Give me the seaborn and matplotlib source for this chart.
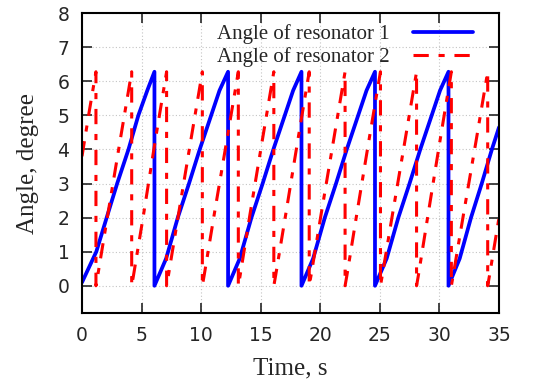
import matplotlib
matplotlib.use("Agg")
import matplotlib.pyplot as plt
import seaborn as sns
import pandas as pd

# resonator 1 (blue, solid): sawtooth, vertical drop 6.28 -> 0 at each reset
blue_t = [0.0, 1.2, 2.07, 2.95, 3.9, 4.73, 5.5, 6.08,
          6.08, 7.06, 8.04, 8.98, 9.88, 10.84, 11.54, 12.26,
          12.26, 13.24, 14.22, 15.16, 16.06, 17.02, 17.72, 18.42,
          18.42, 19.4, 20.38, 21.32, 22.22, 23.18, 23.88, 24.59,
          24.59, 25.57, 26.55, 27.49, 28.39, 29.35, 30.05, 30.76,
          30.76, 31.7, 32.65, 33.55, 34.4, 35.0]
blue_y = [0.1, 1.0, 2.0, 3.0, 4.0, 5.0, 5.75, 6.28,
          0.0, 0.8, 2.0, 3.0, 4.0, 5.0, 5.73, 6.28,
          0.0, 0.8, 2.0, 3.0, 4.0, 5.0, 5.73, 6.28,
          0.0, 0.8, 2.0, 3.0, 4.0, 5.0, 5.73, 6.28,
          0.0, 0.8, 2.0, 3.0, 4.0, 5.0, 5.73, 6.28,
          0.0, 0.8, 2.0, 3.0, 4.0, 4.65]

# resonator 2 (red, dash-dot)
red_t = [0.0, 0.6, 1.17,
         1.17, 1.32, 2.17, 3.17, 4.17,
         4.17, 4.32, 5.17, 6.12, 7.1,
         7.1, 7.25, 8.1, 9.1, 10.1,
         10.1, 10.25, 11.1, 12.12, 13.12,
         13.12, 13.27, 14.1, 15.1, 16.1,
         16.1, 16.25, 17.1, 18.08, 19.07,
         19.07, 19.22, 20.07, 21.08, 22.08,
         22.08, 22.23, 23.06, 24.05, 25.05,
         25.05, 25.2, 26.06, 27.08, 28.08,
         28.08, 28.23, 29.05, 30.02, 31.0,
         31.0, 31.15, 32.02, 33.05, 34.05,
         34.05, 34.2, 35.0]
red_y = [3.8, 5.1, 6.28,
         0.0, 0.3, 2.1, 4.2, 6.28,
         0.0, 0.3, 2.1, 4.2, 6.28,
         0.0, 0.3, 2.1, 4.2, 6.28,
         0.0, 0.3, 2.1, 4.2, 6.28,
         0.0, 0.3, 2.1, 4.2, 6.28,
         0.0, 0.3, 2.1, 4.2, 6.28,
         0.0, 0.3, 2.1, 4.2, 6.28,
         0.0, 0.3, 2.1, 4.2, 6.28,
         0.0, 0.3, 2.1, 4.2, 6.28,
         0.0, 0.3, 2.1, 4.2, 6.28,
         0.0, 0.3, 2.1, 4.2, 6.28,
         0.0, 0.3, 2.0]

labels = ["Angle of resonator 1", "Angle of resonator 2"]
x_ticks = [0, 5, 10, 15, 20, 25, 30, 35]
y_ticks = [0, 1, 2, 3, 4, 5, 6, 7, 8]

sns.set_style("ticks")
plt.rcParams["font.family"] = ["DejaVu Sans"]

fig = plt.figure(figsize=(5.36, 3.86), dpi=100)
ax = fig.add_axes([0.153, 0.189, 0.778, 0.777])

d1 = pd.DataFrame({"t": blue_t, "a": blue_y})
d2 = pd.DataFrame({"t": red_t, "a": red_y})
sns.lineplot(data=d1, x="t", y="a", sort=False, estimator=None, ax=ax,
             color="#0000ff", linewidth=2.7, label=labels[0])
sns.lineplot(data=d2, x="t", y="a", sort=False, estimator=None, ax=ax,
             color="#ff0000", linewidth=2.2, label=labels[1])
ax.lines[1].set_linestyle((0, (5, 3.2, 2, 3.2)))

ax.set_xlim(0, 35)
ax.set_ylim(-0.8, 8)
ax.set_xticks(x_ticks)
ax.set_yticks(y_ticks)
ax.grid(True, color="#c4c4c4", linestyle=(0, (1, 2)), linewidth=0.8)
ax.tick_params(direction="in", length=7, width=1.2, labelsize=13.5,
               top=True, right=True, pad=9)
for s in ax.spines.values():
    s.set_visible(True)
    s.set_linewidth(1.5)
    s.set_color("black")

serif = ["Liberation Serif", "DejaVu Serif"]
ax.set_xlabel("Time, s", family=serif, fontsize=18, labelpad=9)
ax.set_ylabel("Angle, degree", family=serif, fontsize=18, labelpad=13)

leg = ax.legend(loc="upper right", bbox_to_anchor=(0.938, 0.963), frameon=False,
                markerfirst=False, prop={"family": serif, "size": 15},
                handlelength=2.9, handletextpad=1.1, labelspacing=0.15,
                borderpad=0, borderaxespad=0)

fig.savefig("out.png", dpi=100)
